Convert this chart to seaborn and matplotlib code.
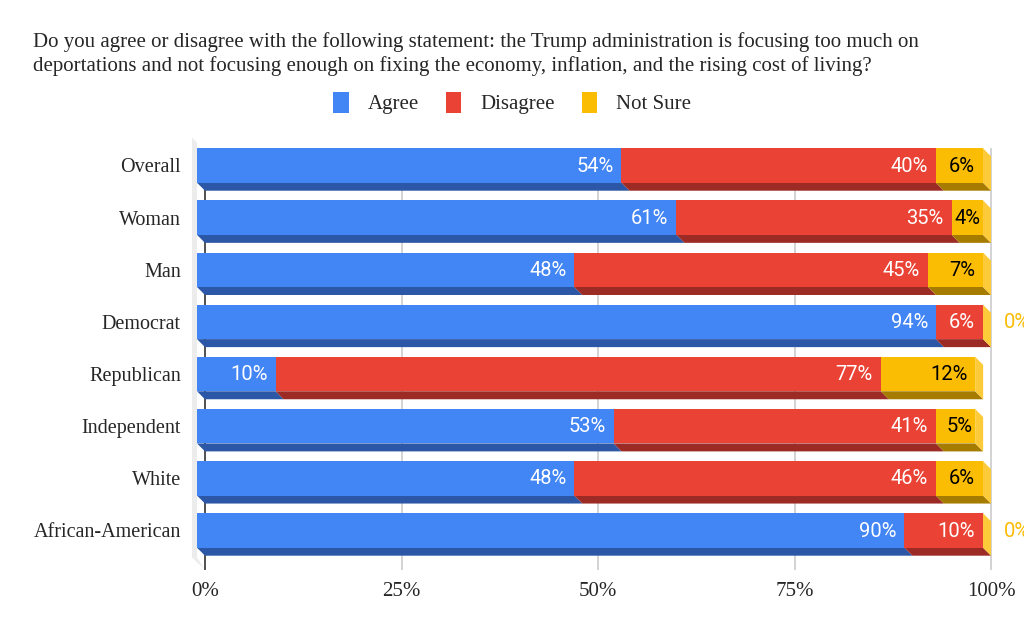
import numpy as np
import pandas as pd
import matplotlib
matplotlib.use("Agg")
import matplotlib.pyplot as plt
from matplotlib.patches import Polygon, Patch
import seaborn as sns

# DATA
groups = ["Overall", "Woman", "Man", "Democrat", "Republican",
          "Independent", "White", "African-American"]
agree = [54, 61, 48, 94, 10, 53, 48, 90]
disagree = [40, 35, 45, 6, 77, 41, 46, 10]
not_sure = [6, 4, 7, 0, 12, 5, 6, 0]
series = ["Agree", "Disagree", "Not Sure"]
tick_vals = [0, 25, 50, 75, 100]
title = ("Do you agree or disagree with the following statement: the Trump administration is focusing too much on\n"
         "deportations and not focusing enough on fixing the economy, inflation, and the rising cost of living?")

# STYLING
sns.set_theme(style="white")
plt.rcParams['font.family'] = ['Liberation Serif', 'DejaVu Serif']

front = ["#4285F4", "#EA4335", "#FBBC04"]
bottom = ["#2C57A6", "#9C2B25", "#A67C00"]
side = ["#6C9EF6", "#EE6A5F", "#FDCB3A"]
label_col = ["white", "white", "black"]

df = pd.DataFrame({"group": groups, "Agree": agree, "Disagree": disagree, "Not Sure": not_sure})
df["c1"] = df["Agree"]
df["c2"] = df["c1"] + df["Disagree"]
df["c3"] = df["c2"] + df["Not Sure"]

# geometry (pixels -> data)
ppx = 7.86          # px per percent
row = 52.14         # px per row
dx = 8 / ppx
dy = 8 / row
bw = 0.66

fig = plt.figure(figsize=(10.24, 6.33), dpi=100)
ax = fig.add_axes([185 / 1024, 1 - 575 / 633, (1024 - 185) / 1024, 450 / 633])

# stacked front faces, back to front
for col, c in zip(["c3", "c2", "c1"], front[::-1]):
    sns.barplot(data=df, x=col, y="group", order=groups, color=c, saturation=1,
                width=bw, linewidth=0, ax=ax, zorder=3)

ax.set_xlim(-12 / ppx, (1024 - 197) / ppx)
ax.set_ylim((575 - 165.5) / row, (125 - 165.5) / row)

# back wall on the left
ax.add_patch(Polygon([(-5 / ppx, -28 / row), (0, -23 / row), (0, 392 / row),
                      (8 / ppx, 404 / row), (-5 / ppx, 392 / row)],
                     closed=True, facecolor="#ececec", edgecolor="none", zorder=0))

# gridlines on back plane
for v in tick_vals:
    ax.vlines(v + dx, -0.33, (570 - 165.5) / row,
              color="#333333" if v == 0 else "#cccccc", lw=1.2, zorder=1)

# 3D faces
seg_cols = ["Agree", "Disagree", "Not Sure"]
lab_font = ["Roboto", "DejaVu Sans"]
for i, r in df.iterrows():
    yt, yb = i - bw / 2, i + bw / 2
    start = 0
    for k, s in enumerate(seg_cols):
        end = start + r[s]
        if r[s] > 0:
            ax.add_patch(Polygon([(start, yb), (end, yb), (end + dx, yb + dy), (start + dx, yb + dy)],
                                 closed=True, facecolor=bottom[k], edgecolor="none", zorder=2))
        start = end
    tot = r["c3"]
    ax.add_patch(Polygon([(tot, yt), (tot + dx, yt + dy), (tot + dx, yb + dy), (tot, yb)],
                         closed=True, facecolor=side[2], edgecolor="none", zorder=2))
    # labels
    start = 0
    for k, s in enumerate(seg_cols):
        v = r[s]
        end = start + v
        if v > 0:
            pad = 1.0 if v > 5 else 0.35
            ax.text(end - pad, i + 0.01, f"{v}%", ha="right", va="center", color=label_col[k],
                    fontsize=14.5, family=lab_font, zorder=5)
        else:
            ax.text(tot + dx + 1.6, i + 0.01, f"{v}%", ha="left", va="center", color=front[2],
                    fontsize=14.5, family=lab_font, zorder=5, clip_on=False)
        start = end

ax.set_xticks([v + dx for v in tick_vals])
ax.set_xticklabels([f"{v}%" for v in tick_vals], fontsize=15)
ax.tick_params(axis="x", length=0, pad=5)
ax.tick_params(axis="y", length=0, pad=3.0, labelsize=14.5)
ax.set_xlabel("")
ax.set_ylabel("")
for sp in ax.spines.values():
    sp.set_visible(False)

fig.text(33 / 1024, 1 - 32 / 633, title, ha="left", va="top", fontsize=15, linespacing=1.25)

handles = [Patch(facecolor=c, edgecolor="none") for c in front]
fig.legend(handles, series, loc="center", bbox_to_anchor=(512 / 1024, 1 - 103 / 633),
           ncol=3, frameon=False, fontsize=15, handlelength=0.75, handleheight=1.2,
           handletextpad=0.9, columnspacing=1.3)

fig.savefig("out.png", dpi=100)
